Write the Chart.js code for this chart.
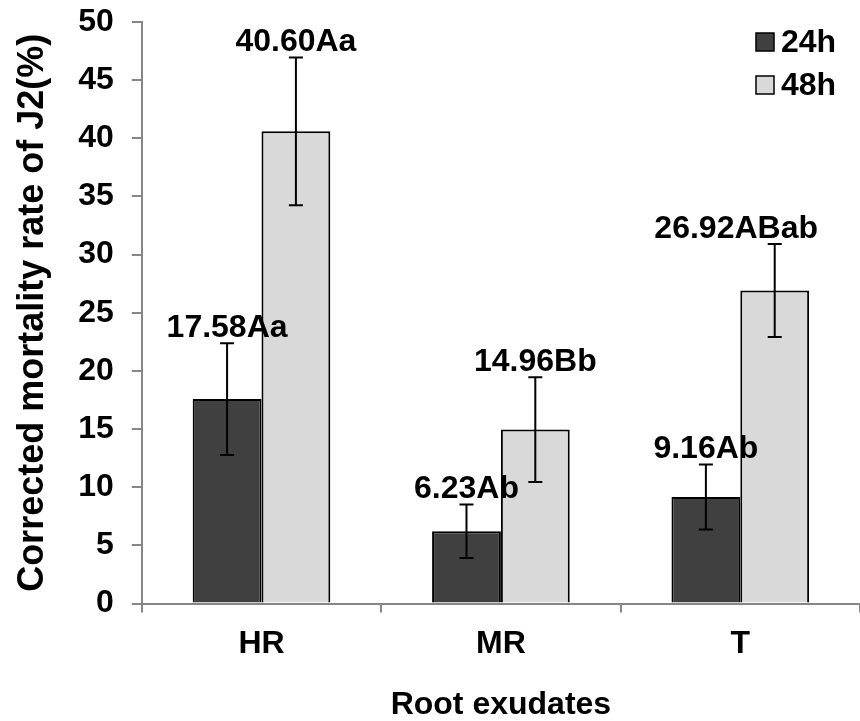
<!DOCTYPE html>
<html>
<head>
<meta charset="utf-8">
<script src="https://cdn.jsdelivr.net/npm/chart.js@4/dist/chart.umd.min.js"></script>
<style>
    body { margin: 0; background: #fff; }
    canvas { display: block; }
</style>
</head>
<body>
<canvas id="grafico" width="860" height="721"></canvas>
<script>
const categorias = ["HR", "MR", "T"];
const series = ["24h", "48h"];
const valores24h = [17.58, 6.23, 9.16];
const valores48h = [40.60, 14.96, 26.92];
const erros24h = [4.8, 2.3, 2.8];
const erros48h = [6.35, 4.5, 4.0];
const rotulos24h = ["17.58Aa", "6.23Ab", "9.16Ab"];
const rotulos48h = ["40.60Aa", "14.96Bb", "26.92ABab"];

const fonte = "Liberation Sans, Arial, sans-serif";
const cinzaEixo = "#868686";

// barras de erro + rótulos acima delas
const pluginErros = {
    id: "erros",
    afterDatasetsDraw(chart) {
        const ctx = chart.ctx;
        const y = chart.scales.y;
        const area = chart.chartArea;
        ctx.save();
        chart.data.datasets.forEach((ds, i) => {
            const meta = chart.getDatasetMeta(i);
            meta.data.forEach((barra, j) => {
                const v = ds.data[j];
                const e = ds.erros[j];
                const yTopo = y.getPixelForValue(v + e);
                const yBase = y.getPixelForValue(v - e);
                ctx.strokeStyle = "#000";
                ctx.lineWidth = 2;
                ctx.beginPath();
                ctx.moveTo(barra.x, yTopo);
                ctx.lineTo(barra.x, yBase);
                ctx.moveTo(barra.x - 7, yTopo);
                ctx.lineTo(barra.x + 7, yTopo);
                ctx.moveTo(barra.x - 7, yBase);
                ctx.lineTo(barra.x + 7, yBase);
                ctx.stroke();

                ctx.fillStyle = "#000";
                ctx.font = "bold 32px " + fonte;
                ctx.textAlign = "center";
                ctx.textBaseline = "alphabetic";
                // não deixa o rótulo encostar na borda direita
                const meio = ctx.measureText(ds.rotulos[j]).width / 2;
                const xTexto = Math.min(barra.x, area.right - 42 - meio);
                ctx.fillText(ds.rotulos[j], xTexto, yTopo - 6);
            });
        });
        ctx.restore();
    }
};

// legenda dentro da área do gráfico, canto superior direito
const pluginLegenda = {
    id: "legendaDentro",
    afterDraw(chart) {
        const ctx = chart.ctx;
        const area = chart.chartArea;
        ctx.save();
        chart.data.datasets.forEach((ds, i) => {
            const x = area.right - 104;
            const yc = area.top + 20 + i * 43;
            ctx.fillStyle = ds.backgroundColor;
            ctx.strokeStyle = "#000";
            ctx.lineWidth = 1.5;
            ctx.fillRect(x, yc - 9, 18, 18);
            ctx.strokeRect(x, yc - 9, 18, 18);
            ctx.fillStyle = "#000";
            ctx.font = "bold 32px " + fonte;
            ctx.textAlign = "left";
            ctx.textBaseline = "middle";
            ctx.fillText(ds.label, x + 25, yc + 1);
        });
        ctx.restore();
    }
};

const ctx = document.getElementById("grafico").getContext("2d");

new Chart(ctx, {
    type: "bar",
    data: {
        labels: categorias,
        datasets: [
            {
                label: series[0],
                data: valores24h,
                erros: erros24h,
                rotulos: rotulos24h,
                backgroundColor: "#404040",
                borderColor: "#000",
                borderWidth: 2
            },
            {
                label: series[1],
                data: valores48h,
                erros: erros48h,
                rotulos: rotulos48h,
                backgroundColor: "#d9d9d9",
                borderColor: "#000",
                borderWidth: 2
            }
        ]
    },
    options: {
        responsive: false,
        animation: false,
        layout: { autoPadding: false, padding: { top: 22, right: 0, left: 11, bottom: 0 } },
        datasets: {
            bar: { categoryPercentage: 0.575, barPercentage: 1.0 }
        },
        plugins: {
            legend: { display: false },
            tooltip: { enabled: false }
        },
        scales: {
            x: {
                grid: {
                    drawOnChartArea: false,
                    offset: true,
                    tickLength: 9,
                    color: cinzaEixo,
                    lineWidth: 2
                },
                border: { color: cinzaEixo, width: 2 },
                ticks: {
                    color: "#000",
                    padding: 12,
                    font: { family: fonte, size: 32, weight: "bold" }
                },
                title: {
                    display: true,
                    text: "Root exudates",
                    color: "#000",
                    padding: { top: 14, bottom: 0 },
                    font: { family: fonte, size: 32, weight: "bold", lineHeight: 1.0 }
                }
            },
            y: {
                min: 0,
                max: 50,
                ticks: {
                    stepSize: 5,
                    color: "#000",
                    padding: 18,
                    // lineHeight pequeno só para o eixo não reservar espaço extra no topo
                    font: { family: fonte, size: 32, weight: "bold", lineHeight: 0.2 }
                },
                grid: {
                    drawOnChartArea: false,
                    tickLength: 10,
                    color: cinzaEixo,
                    lineWidth: 2
                },
                border: { color: cinzaEixo, width: 2 },
                title: {
                    display: true,
                    text: "Corrected mortality rate of J2(%)",
                    color: "#000",
                    padding: { top: 0, bottom: 6 },
                    font: { family: fonte, size: 36, weight: "bold" }
                }
            }
        }
    },
    plugins: [pluginErros, pluginLegenda]
});
</script>
</body>
</html>
